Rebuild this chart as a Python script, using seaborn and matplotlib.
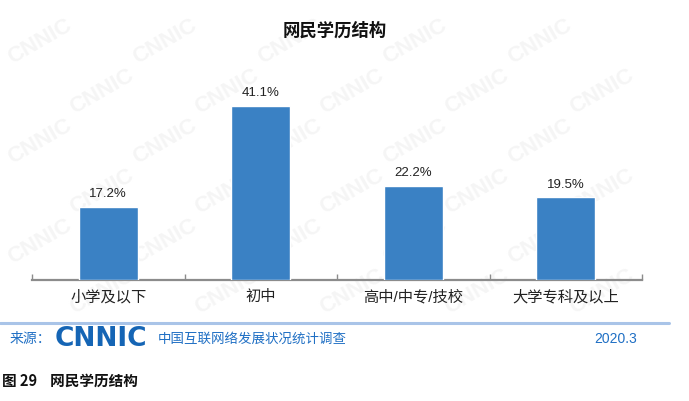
import numpy as np
import pandas as pd
import matplotlib
matplotlib.use('Agg')
import matplotlib.pyplot as plt
import seaborn as sns

# Data
categories = ['小学及以下', '初中', '高中/中专/技校', '大学专科及以上']
shares = [17.2, 41.1, 22.2, 19.5]
title = '网民学历结构'
source_label = '来源：'
source_name = '中国互联网络发展状况统计调查'
report_date = '2020.3'
caption = '图 29    网民学历结构'

sns.set_theme(style='white')
plt.rcParams['font.family'] = ['Liberation Sans', 'Noto Sans CJK SC', 'DejaVu Sans']

df = pd.DataFrame({'category': categories, 'share': shares})

fig = plt.figure(figsize=(6.89, 4.01), dpi=100)
W, H = 689, 401

# faint CNNIC watermark behind the chart
for row in range(7):
    for col in range(7):
        x = 40 + col * 125 + (row % 2) * 62
        y = 42 + row * 50
        if x < 640 and y < 340:
            fig.text(x / W, 1 - y / H, 'CNNIC', fontsize=16, fontweight='bold',
                     color='#f5f5f5', rotation=30, ha='center', va='center', zorder=-5)

ax = fig.add_axes([32 / W, (H - 280) / H, (642 - 32) / W, 212 / H])
ax.patch.set_alpha(0)
sns.barplot(data=df, x='category', y='share', color='#3a81c4', width=0.39,
            saturation=1, ax=ax, zorder=3)
ax.set_ylim(0, 50)
ax.set_xlim(-0.5, len(categories) - 0.5)
ax.set_xlabel('')
ax.set_ylabel('')
ax.set_yticks([])
for s in ['top', 'right', 'left']:
    ax.spines[s].set_visible(False)
ax.spines['bottom'].set_color('#8c8c8c')
ax.spines['bottom'].set_linewidth(1.6)

# tick marks at category boundaries, pointing up
ax.set_xticks(np.arange(len(categories) + 1) - 0.5, minor=True)
ax.tick_params(axis='x', which='minor', bottom=True, direction='in', length=4,
               width=1, color='#8c8c8c')
ax.tick_params(axis='x', which='major', bottom=False, length=0, labelsize=11, pad=7,
               colors='#222222')

for p, v in zip(ax.patches, shares):
    ax.text(p.get_x() + p.get_width() / 2, v + 1.6, f'{v}%', ha='center', va='bottom',
            fontsize=9.5, color='#222222')

fig.text(335 / W, 1 - 30 / H, title, ha='center', va='center', fontsize=12.5,
         fontweight='bold', color='#111111')

# footer
fig.add_artist(plt.Line2D([0, 669 / W], [1 - 323 / H, 1 - 323 / H],
                          color='#a9c4e8', lw=2.2, transform=fig.transFigure))
fig.text(10 / W, 1 - 339 / H, source_label, ha='left', va='center', fontsize=10,
         color='#1f6fc4')
fig.text(55 / W, 1 - 339 / H, 'CNNIC', ha='left', va='center', fontsize=19,
         fontweight='heavy', color='#1565b5', family='DejaVu Sans')
fig.text(158 / W, 1 - 339 / H, source_name, ha='left', va='center', fontsize=9.7,
         color='#1f6fc4')
fig.text(637 / W, 1 - 339 / H, report_date, ha='right', va='center', fontsize=10,
         color='#1f6fc4')
fig.text(2 / W, 1 - 381 / H, caption, ha='left', va='center', fontsize=10.5,
         fontweight='bold', color='#111111', family=['Noto Sans CJK SC', 'DejaVu Sans'])

fig.savefig('out.png', dpi=100, facecolor='white')
